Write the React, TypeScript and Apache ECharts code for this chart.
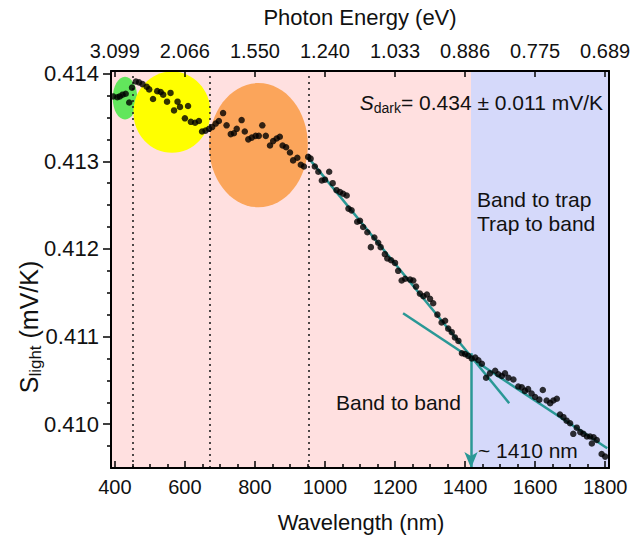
import React, { useEffect, useRef } from 'react';
import * as echarts from 'echarts';

const FONT = '"Liberation Sans", Arial, Helvetica, sans-serif';

// Bottom axis ticks (nm) and matching top-axis photon energies (eV)
const wavelengthTicks = [400, 600, 800, 1000, 1200, 1400, 1600, 1800];
const wavelengthTickLabels = ['400', '600', '800', '1000', '1200', '1400', '1600', '1800'];
const energyTickLabels = ['3.099', '2.066', '1.550', '1.240', '1.033', '0.886', '0.775', '0.689'];
const minorWavelengthTicks = [450, 500, 550, 650, 700, 750, 850, 900, 950, 1050, 1100, 1150, 1250, 1300, 1350, 1450, 1500, 1550, 1650, 1700, 1750];

// Left axis ticks (mV/K)
const sTicks = [0.41, 0.411, 0.412, 0.413, 0.414];
const sTickLabels = ['0.410', '0.411', '0.412', '0.413', '0.414'];
const sMinorTicks = [0.40975, 0.41025, 0.4105, 0.41075, 0.41125, 0.4115, 0.41175, 0.41225, 0.4125, 0.41275, 0.41325, 0.4135, 0.41375];

// Measured data
const wavelengthNm = [
  395, 407, 414, 422, 431, 441, 449, 460, 469, 479,
  491, 498, 509, 521, 531, 538, 549, 559, 569, 579,
  586, 600, 609, 617, 629, 640, 649, 659, 669, 678,
  688, 697, 709, 719, 731, 740, 748, 762, 771, 781,
  791, 802, 811, 821, 831, 843, 852, 862, 871, 879,
  889, 900, 909, 921, 931, 940, 952, 959, 971, 981,
  991, 1000, 1012, 1022, 1033, 1043, 1052, 1062, 1067, 1076,
  1092, 1100, 1109, 1121, 1131, 1141, 1152, 1159, 1171, 1178,
  1189, 1200, 1209, 1219, 1229, 1243, 1252, 1260, 1271, 1281,
  1291, 1300, 1309, 1321, 1333, 1343, 1352, 1362, 1371, 1381,
  1391, 1400, 1409, 1419, 1429, 1438, 1448, 1460, 1471, 1486,
  1495, 1505, 1514, 1524, 1538, 1552, 1562, 1571, 1580, 1590,
  1600, 1612, 1622, 1633, 1643, 1652, 1662, 1671, 1681, 1690,
  1700, 1709, 1719, 1729, 1738, 1748, 1757, 1767, 1762, 1776,
  1790, 1800,
];
const sLight = [
  0.41374, 0.41373, 0.41374, 0.41376, 0.41377, 0.41367, 0.41384, 0.41391, 0.4139, 0.41388,
  0.41385, 0.41382, 0.41371, 0.4138, 0.41379, 0.41376, 0.41368, 0.41378, 0.41358, 0.41368,
  0.41362, 0.41349, 0.41363, 0.41345, 0.41344, 0.41346, 0.41334, 0.41335, 0.41337, 0.41339,
  0.41343, 0.41346, 0.41355, 0.41341, 0.41331, 0.41332, 0.41337, 0.41347, 0.41334, 0.41325,
  0.41327, 0.41329, 0.41329, 0.41341, 0.41329, 0.41318, 0.41323, 0.41326, 0.41328, 0.41318,
  0.41316, 0.4131, 0.41301, 0.41304, 0.41296, 0.41294, 0.41305, 0.41303, 0.41294, 0.41288,
  0.41278, 0.41279, 0.41288, 0.41275, 0.41267, 0.41265, 0.41263, 0.41261, 0.41246, 0.41244,
  0.41231, 0.41232, 0.41225, 0.41219, 0.41202, 0.41213, 0.41207, 0.41202, 0.41194, 0.41189,
  0.41187, 0.41184, 0.41175, 0.41164, 0.41166, 0.41165, 0.41164, 0.41157, 0.41149, 0.41146,
  0.41148, 0.41143, 0.41138, 0.41125, 0.41116, 0.41118, 0.41109, 0.41105, 0.41099, 0.41095,
  0.41081, 0.4108, 0.41078, 0.41075, 0.41076, 0.41073, 0.41069, 0.41053, 0.41058, 0.41061,
  0.41057, 0.41055, 0.41058, 0.41053, 0.41051, 0.41043, 0.41042, 0.41038, 0.4104, 0.41035,
  0.41031, 0.41028, 0.41039, 0.41027, 0.41024, 0.41027, 0.41029, 0.41011, 0.41008, 0.41004,
  0.41001, 0.40989, 0.40996, 0.40991, 0.40989, 0.40986, 0.40986, 0.40985, 0.40978, 0.40982,
  0.40966, 0.40963,
];

// Linear fits (endpoints in data units)
const fitBandToBandNm = [951, 1526];
const fitBandToBandS = [0.413047, 0.410239];
const fitBandToTrapNm = [1223, 1806];
const fitBandToTrapS = [0.411266, 0.409725];

// Annotation values
const bandEdgeNm = 1417;
const crossingS = 0.41081;
const dottedLinesNm = [451, 671, 954];

// Highlight ellipses: centre (nm, mV/K), radius (nm, mV/K)
const ellipseCenterNm = [429, 563, 810];
const ellipseCenterS = [0.41372, 0.41356, 0.413184];
const ellipseRadiusNm = [35, 110, 141];
const ellipseRadiusS = [0.000243, 0.000463, 0.000708];
const ellipseColors = ['#62E65C', '#FFFF00', '#FBA55B'];

const X_MIN = 389;
const X_MAX = 1811;
const Y_MIN = 0.4095;
const Y_MAX = 0.41403;

function labelFor(ticks: number[], labels: string[], v: number) {
  let best = 0;
  ticks.forEach((t, i) => {
    if (Math.abs(t - v) < Math.abs(ticks[best] - v)) best = i;
  });
  return labels[best];
}

export default function App() {
  const ref = useRef<HTMLDivElement>(null);

  useEffect(() => {
    if (!ref.current) return;
    const chart = echarts.init(ref.current, null, { renderer: 'svg' });
    const teal = '#2A9896';
    const ink = '#111111';
    const pink = '#FFE0E0';
    const blue = '#D5D9FA';

    const baseX = {
      type: 'value',
      min: X_MIN,
      max: X_MAX,
      splitLine: { show: false },
      z: 10,
    };
    const baseY = {
      type: 'value',
      min: Y_MIN,
      max: Y_MAX,
      splitLine: { show: false },
      z: 10,
    };

    const option: any = {
      animation: false,
      grid: { left: 111, right: 32, top: 71, bottom: 67 },
      xAxis: [
        {
          ...baseX,
          position: 'bottom',
          axisLine: { show: true, onZero: false, lineStyle: { color: '#000', width: 2 } },
          axisTick: { show: true, inside: true, length: 7, customValues: wavelengthTicks, lineStyle: { color: '#000', width: 1.5 } },
          axisLabel: {
            customValues: wavelengthTicks,
            fontSize: 20,
            margin: 9,
            color: ink,
            fontFamily: FONT,
            formatter: (v: number) => labelFor(wavelengthTicks, wavelengthTickLabels, v),
          },
        },
        {
          ...baseX,
          position: 'top',
          axisLine: { show: true, onZero: false, lineStyle: { color: '#000', width: 2 } },
          axisTick: { show: true, inside: true, length: 6, customValues: wavelengthTicks, lineStyle: { color: '#000', width: 1.5 } },
          axisLabel: {
            customValues: wavelengthTicks,
            fontSize: 20,
            margin: 10,
            color: ink,
            fontFamily: FONT,
            formatter: (v: number) => labelFor(wavelengthTicks, energyTickLabels, v),
          },
        },
        {
          ...baseX,
          position: 'bottom',
          axisLine: { show: false, onZero: false },
          axisTick: { show: true, inside: true, length: 4, customValues: minorWavelengthTicks, lineStyle: { color: '#000', width: 1.5 } },
          axisLabel: { show: false },
        },
      ],
      yAxis: [
        {
          ...baseY,
          position: 'left',
          axisLine: { show: true, onZero: false, lineStyle: { color: '#000', width: 2 } },
          axisTick: { show: true, inside: false, length: 8, customValues: sTicks, lineStyle: { color: '#000', width: 1.5 } },
          axisLabel: {
            customValues: sTicks,
            fontSize: 22,
            margin: 12,
            color: ink,
            fontFamily: FONT,
            formatter: (v: number) => labelFor(sTicks, sTickLabels, v),
          },
        },
        {
          ...baseY,
          position: 'left',
          axisLine: { show: false, onZero: false },
          axisTick: { show: true, inside: false, length: 4, customValues: sMinorTicks, lineStyle: { color: '#000', width: 1.5 } },
          axisLabel: { show: false },
        },
        {
          ...baseY,
          position: 'right',
          axisLine: { show: true, onZero: false, lineStyle: { color: '#000', width: 2 } },
          axisTick: { show: false },
          axisLabel: { show: false },
        },
      ],
      series: [
        {
          name: 'regions',
          type: 'line',
          data: [],
          z: 1,
          markArea: {
            silent: true,
            label: { show: false },
            data: [
              [{ xAxis: X_MIN, itemStyle: { color: pink } }, { xAxis: bandEdgeNm }],
              [{ xAxis: bandEdgeNm, itemStyle: { color: blue } }, { xAxis: X_MAX }],
            ],
          },
        },
        {
          name: 'dotted',
          type: 'line',
          data: [],
          z: 2,
          markLine: {
            silent: true,
            symbol: 'none',
            label: { show: false },
            lineStyle: { type: [2, 4], color: '#222', width: 1.6 },
            data: dottedLinesNm.map((x) => ({ xAxis: x })),
          },
        },
        {
          name: 'ellipses',
          type: 'custom',
          z: 3,
          silent: true,
          encode: { x: 0, y: 1 },
          data: ellipseCenterNm.map((x, i) => [x, ellipseCenterS[i], ellipseRadiusNm[i], ellipseRadiusS[i], i]),
          renderItem: (params: any, api: any) => {
            const c = api.coord([api.value(0), api.value(1)]);
            const s = api.size([api.value(2), api.value(3)]);
            return {
              type: 'ellipse',
              shape: { cx: c[0], cy: c[1], rx: s[0], ry: s[1] },
              style: { fill: ellipseColors[api.value(4)] },
            };
          },
        },
        {
          name: 'fit1',
          type: 'line',
          z: 4,
          showSymbol: false,
          silent: true,
          lineStyle: { color: teal, width: 2.5 },
          data: fitBandToBandNm.map((x, i) => [x, fitBandToBandS[i]]),
        },
        {
          name: 'fit2',
          type: 'line',
          z: 4,
          showSymbol: false,
          silent: true,
          lineStyle: { color: teal, width: 2.5 },
          data: fitBandToTrapNm.map((x, i) => [x, fitBandToTrapS[i]]),
        },
        {
          name: 'arrow',
          type: 'line',
          data: [],
          z: 4,
          markLine: {
            silent: true,
            symbol: ['none', 'arrow'],
            symbolSize: [10, 16],
            label: { show: false },
            lineStyle: { color: teal, width: 2.5, type: 'solid' },
            itemStyle: { color: teal },
            data: [[{ coord: [bandEdgeNm, crossingS] }, { coord: [bandEdgeNm, Y_MIN] }]],
          },
        },
        {
          name: 'S_light',
          type: 'scatter',
          z: 5,
          symbol: 'circle',
          symbolSize: 6.5,
          itemStyle: { color: '#000' },
          data: wavelengthNm.map((x, i) => [x, sLight[i]]),
        },
      ],
      graphic: [
        {
          type: 'text',
          x: 360,
          y: 17,
          z: 100,
          style: { text: 'Photon Energy (eV)', fontSize: 22, fontFamily: FONT, fill: ink, align: 'center', verticalAlign: 'middle' },
        },
        {
          type: 'text',
          x: 361,
          y: 522,
          z: 100,
          style: { text: 'Wavelength (nm)', fontSize: 22, fontFamily: FONT, fill: ink, align: 'center', verticalAlign: 'middle' },
        },
        {
          type: 'text',
          x: 29,
          y: 327,
          z: 100,
          rotation: Math.PI / 2,
          style: {
            text: '{m|S}{s|light}{m| (mV/K)}',
            fill: ink,
            align: 'center',
            verticalAlign: 'middle',
            rich: {
              m: { fontSize: 25, fontFamily: FONT, lineHeight: 30, fill: ink },
              s: { fontSize: 17, fontFamily: FONT, lineHeight: 17, verticalAlign: 'bottom', fill: ink },
            },
          },
        },
        {
          type: 'text',
          x: 603,
          y: 102,
          z: 100,
          style: {
            text: '{i|S}{s|dark}{m|= 0.434 ± 0.011 mV/K}',
            fill: ink,
            align: 'right',
            verticalAlign: 'middle',
            rich: {
              i: { fontSize: 21, fontStyle: 'italic', fontFamily: FONT, lineHeight: 26, fill: ink },
              s: { fontSize: 14, fontFamily: FONT, lineHeight: 14, verticalAlign: 'bottom', fill: ink },
              m: { fontSize: 21, fontFamily: FONT, lineHeight: 26, fill: ink },
            },
          },
        },
        {
          type: 'text',
          x: 477,
          y: 211,
          z: 100,
          style: { text: 'Band to trap\nTrap to band', fontSize: 21, lineHeight: 24, fontFamily: FONT, fill: ink, align: 'left', verticalAlign: 'middle' },
        },
        {
          type: 'text',
          x: 336,
          y: 402,
          z: 100,
          style: { text: 'Band to band', fontSize: 21, fontFamily: FONT, fill: ink, align: 'left', verticalAlign: 'middle' },
        },
        {
          type: 'text',
          x: 478,
          y: 450,
          z: 100,
          style: { text: '~ 1410 nm', fontSize: 21, fontFamily: FONT, fill: ink, align: 'left', verticalAlign: 'middle' },
        },
      ],
    };

    chart.setOption(option);
    return () => chart.dispose();
  }, []);

  return (
    <div
      ref={ref}
      style={{ position: 'fixed', left: 0, top: 0, width: 641, height: 535, background: '#fff' }}
    />
  );
}
